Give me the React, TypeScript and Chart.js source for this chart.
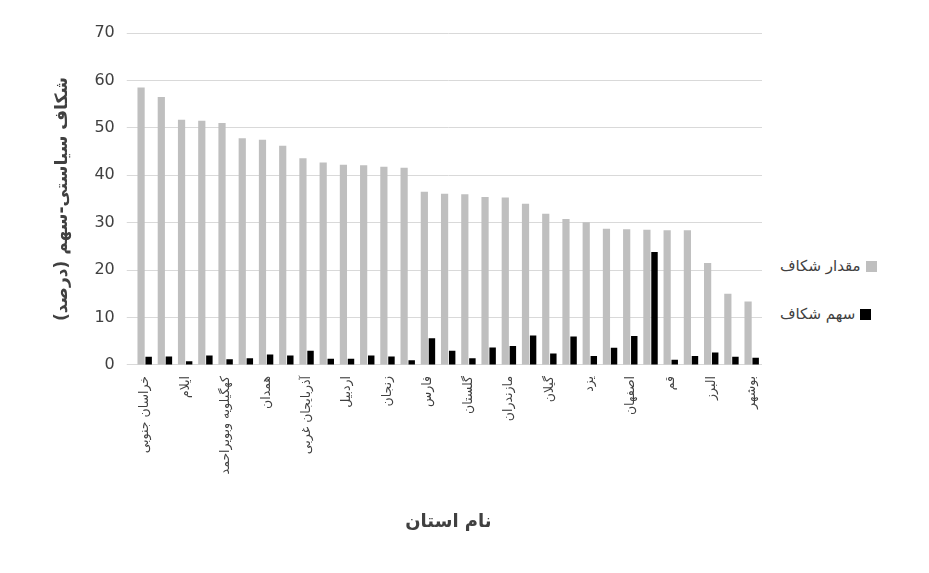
import React, { useEffect, useRef } from 'react';
import { Chart, registerables } from 'chart.js';

Chart.register(...registerables);

const provinces = [
  'خراسان جنوبی', 'خراسان شمالی', 'ایلام', 'لرستان', 'کهگیلویه وبویراحمد', 'کرمانشاه',
  'همدان', 'کردستان', 'آذربایجان غربی', 'آذربایجان شرقی', 'اردبیل', 'مرکزی',
  'زنجان', 'قزوین', 'فارس', 'سمنان', 'گلستان', 'چهارمحال و بختیاری', 'مازندران',
  'کرمان', 'گیلان', 'سیستان و بلوچستان', 'یزد', 'خوزستان', 'اصفهان', 'تهران',
  'قم', 'هرمزگان', 'البرز', 'خراسان رضوی', 'بوشهر',
];
const gapAmount = [
  58.5, 56.5, 51.7, 51.5, 51, 47.8, 47.5, 46.2, 43.6, 42.7, 42.2, 42.1, 41.8, 41.6, 36.5,
  36.1, 36, 35.4, 35.3, 34, 31.9, 30.8, 30.1, 28.7, 28.6, 28.5, 28.4, 28.4, 21.5, 15, 13.4,
];
const gapShare = [
  1.7, 1.8, 0.8, 2, 1.2, 1.4, 2.2, 2, 3, 1.3, 1.3, 2, 1.8, 1, 5.6, 3, 1.4, 3.7, 4, 6.2,
  2.4, 6, 1.9, 3.6, 6.1, 23.8, 1.1, 1.9, 2.6, 1.7, 1.5,
];
const yTicks = [0, 10, 20, 30, 40, 50, 60, 70];

const font = '"DejaVu Sans", sans-serif';

const App: React.FC = () => {
  const canvasRef = useRef<HTMLCanvasElement>(null);

  useEffect(() => {
    if (!canvasRef.current) return;
    const chart = new Chart(canvasRef.current, {
      type: 'bar',
      data: {
        labels: provinces,
        datasets: [
          { label: 'مقدار شکاف', data: gapAmount, backgroundColor: '#bfbfbf', barPercentage: 0.95, categoryPercentage: 0.75 },
          { label: 'سهم شکاف', data: gapShare, backgroundColor: '#000000', barPercentage: 0.85, categoryPercentage: 0.75 },
        ],
      },
      options: {
        animation: false,
        responsive: false,
        layout: { padding: { top: 33, right: 8, left: 48, bottom: 40 } },
        plugins: { legend: { display: false }, tooltip: { enabled: false } },
        scales: {
          x: {
            grid: { display: false },
            border: { color: '#d9d9d9' },
            ticks: {
              autoSkip: false,
              maxRotation: 90,
              minRotation: 90,
              color: '#404040',
              font: { family: font, size: 12.5 },
              callback: (_v, i) => (i % 2 === 0 ? provinces[i] : ''),
            },
            title: { display: true, text: 'نام استان', color: '#404040', font: { family: font, size: 18, weight: 'bold' }, padding: { top: 34, bottom: 0 } },
          },
          y: {
            min: 0,
            max: 70,
            afterBuildTicks: (axis) => { axis.ticks = yTicks.map((v) => ({ value: v })); },
            grid: { color: '#d9d9d9' },
            border: { display: false },
            ticks: { color: '#404040', font: { family: font, size: 16 }, padding: 12 },
            title: { display: true, text: 'شکاف سیاستی-سهم (درصد)', color: '#404040', font: { family: font, size: 17, weight: 'bold' }, padding: { bottom: 10 } },
          },
        },
      },
    });
    return () => chart.destroy();
  }, []);

  const legendItem = (color: string, text: string) => (
    <div style={{ display: 'flex', alignItems: 'center', direction: 'rtl', gap: 5, color: '#404040', fontSize: 15, fontFamily: font }}>
      <span style={{ width: 11, height: 11, background: color, display: 'inline-block' }} />
      <span>{text}</span>
    </div>
  );

  return (
    <div style={{ position: 'absolute', left: 0, top: 0, width: 929, height: 573, background: '#fff' }}>
      <canvas ref={canvasRef} width={770} height={573} style={{ position: 'absolute', left: 0, top: 0 }} />
      <div style={{ position: 'absolute', left: 780, top: 257, display: 'flex', flexDirection: 'column', gap: 30, alignItems: 'flex-start' }}>
        {legendItem('#bfbfbf', 'مقدار شکاف')}
        {legendItem('#000000', 'سهم شکاف')}
      </div>
    </div>
  );
};

export default App;
